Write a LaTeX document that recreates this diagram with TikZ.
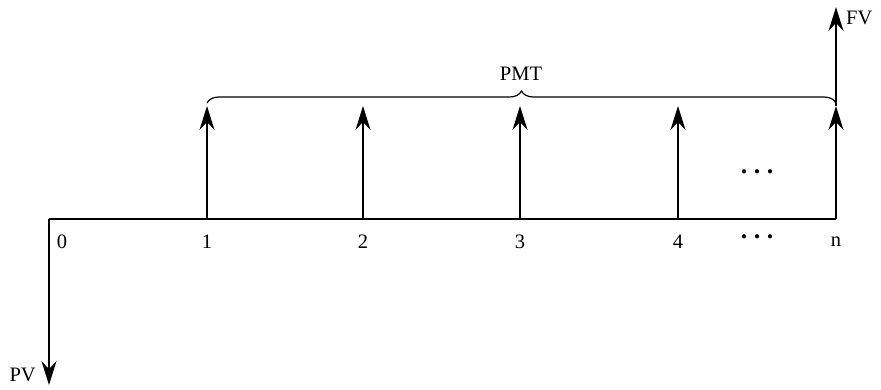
\documentclass[tikz,border=0pt]{standalone}
\usepackage{fontspec}
\setmainfont{Liberation Serif}
\usetikzlibrary{arrows.meta,decorations.pathreplacing}
\begin{document}
\begin{tikzpicture}[x=1pt,y=-1pt,
  flow/.style={line width=1.3pt,-{Stealth[length=24pt,width=15pt,inset=8pt]}},
  axis/.style={line width=1.3pt},
  lbl/.style={inner sep=0pt,font=\fontsize{20.5}{23}\selectfont},
  dots/.style={inner sep=0pt,anchor=base,font=\fontsize{26}{28}\selectfont\bfseries}]
\useasboundingbox (0,0) rectangle (881,390);
% axis points
\coordinate (t0) at (49,219);
\coordinate (t1) at (207,219);
\coordinate (t2) at (363,219);
\coordinate (t3) at (520,219);
\coordinate (t4) at (678,219);
\coordinate (tn) at (836,219);
\coordinate (a1) at (207,106);
\coordinate (a2) at (363,106);
\coordinate (a3) at (520,106);
\coordinate (a4) at (678,106);
\coordinate (an) at (836,106);
\coordinate (fv) at (836,7);
\coordinate (pv) at (49,385);
\coordinate (b1) at (207,103);
\coordinate (bn) at (836,103);
% timeline
\draw[axis] (t0) -- (tn);
% arrows
\draw[flow] (t0) -- (pv);
\draw[flow] (t1) -- (a1);
\draw[flow] (t2) -- (a2);
\draw[flow] (t3) -- (a3);
\draw[flow] (t4) -- (a4);
\draw[flow] (tn) -- (an);
\draw[flow] (an) -- (fv);
% brace
\draw[line width=1.2pt,decorate,decoration={brace,amplitude=12pt}] (b1) -- (bn);
% labels
\node[lbl] (l0) at (62,242) {0};
\node[lbl] (l1) at (207,242) {1};
\node[lbl] (l2) at (363,242) {2};
\node[lbl] (l3) at (520,242) {3};
\node[lbl] (l4) at (678,242) {4};
\node[dots] (ldots) at (757,238.5) {.\hspace{6.5pt}.\hspace{6.5pt}.};
\node[lbl] (ln) at (836,242) {n};
\node[dots] (udots) at (757,173.5) {.\hspace{6.5pt}.\hspace{6.5pt}.};
\node[lbl] (pmt) at (521,74) {PMT};
\node[lbl,anchor=west] (fvl) at (846,18) {FV};
\node[lbl,anchor=east] (pvl) at (36,375) {PV};
\end{tikzpicture}
\end{document}
